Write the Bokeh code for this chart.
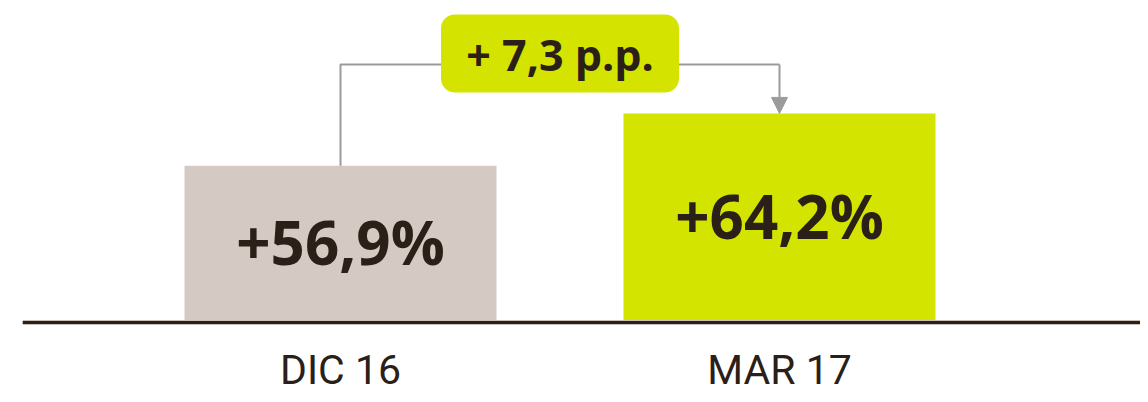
from bokeh.plotting import figure
from bokeh.models import Range1d, Arrow, NormalHead, Span
from bokeh.core.properties import value
from bokeh.embed import file_html
from bokeh.resources import INLINE

# ---- data ----
categories = ["DIC 16", "MAR 17"]
values = [56.9, 64.2]
axis_start = 35.0

# ---- styles ----
bar_colors = ["#d4c9c3", "#d2e400"]
box_color = "#d4e300"
text_color = "#2b2017"
conn_color = "#9b9b9b"

xs = list(range(len(categories)))
labels = ["+" + f"{v:.1f}".replace(".", ",") + "%" for v in values]
mids = [(axis_start + v) / 2 for v in values]
diff = values[1] - values[0]
diff_label = "+ " + f"{diff:.1f}".replace(".", ",") + " p.p."
bracket_y = max(values) + 6.83
box_y = bracket_y + 1.54
x_mid = (xs[0] + xs[1]) / 2

p = figure(width=1140, height=394,
           x_range=Range1d(-0.72437, 1.82232), y_range=Range1d(24.944, 79.97),
           output_backend="svg", toolbar_location=None,
           x_axis_location=None, y_axis_location=None,
           min_border_left=22, min_border_right=0, min_border_top=0, min_border_bottom=0)
p.outline_line_color = None
p.xgrid.visible = False
p.ygrid.visible = False
p.background_fill_color = "white"
p.border_fill_color = "white"

p.vbar(x=xs, top=values, bottom=axis_start, width=0.7107, fill_color=bar_colors, line_color=None)

# baseline (axis line)
p.add_layout(Span(location=axis_start, dimension="width", line_color="#c9bfb7", line_width=5))
p.add_layout(Span(location=axis_start, dimension="width", line_color=text_color, line_width=3))

# value labels inside bars
p.text(x=xs, y=mids, text=labels, text_align="center", text_baseline="middle",
       text_font=value("Open Sans"), text_font_style="bold", text_font_size="60px",
       text_color=text_color, y_offset=-2)

# category labels under the baseline
p.text(x=xs, y=[axis_start] * len(xs), text=categories, text_align="center",
       text_baseline="middle", text_font=value("Roboto"), text_font_size="41px",
       text_color=text_color, y_offset=48)

# connector
p.line(x=[xs[0], xs[0], xs[1]], y=[values[0], bracket_y, bracket_y], line_color=conn_color, line_width=2)
p.add_layout(Arrow(end=NormalHead(size=16, fill_color=conn_color, line_color=conn_color),
                   x_start=xs[1], y_start=bracket_y, x_end=xs[1], y_end=values[1],
                   line_color=conn_color, line_width=2))

p.rect(x=[x_mid], y=[box_y], width=238, height=78, width_units="screen",
       height_units="screen", fill_color=box_color, line_color=None, border_radius=14)
p.text(x=[x_mid], y=[box_y], text=[diff_label], text_align="center",
       text_baseline="middle", text_font=value("Open Sans"), text_font_style="bold",
       text_font_size="43px", text_color=text_color, y_offset=1)

open("out.html", "w").write(file_html(p, INLINE))
